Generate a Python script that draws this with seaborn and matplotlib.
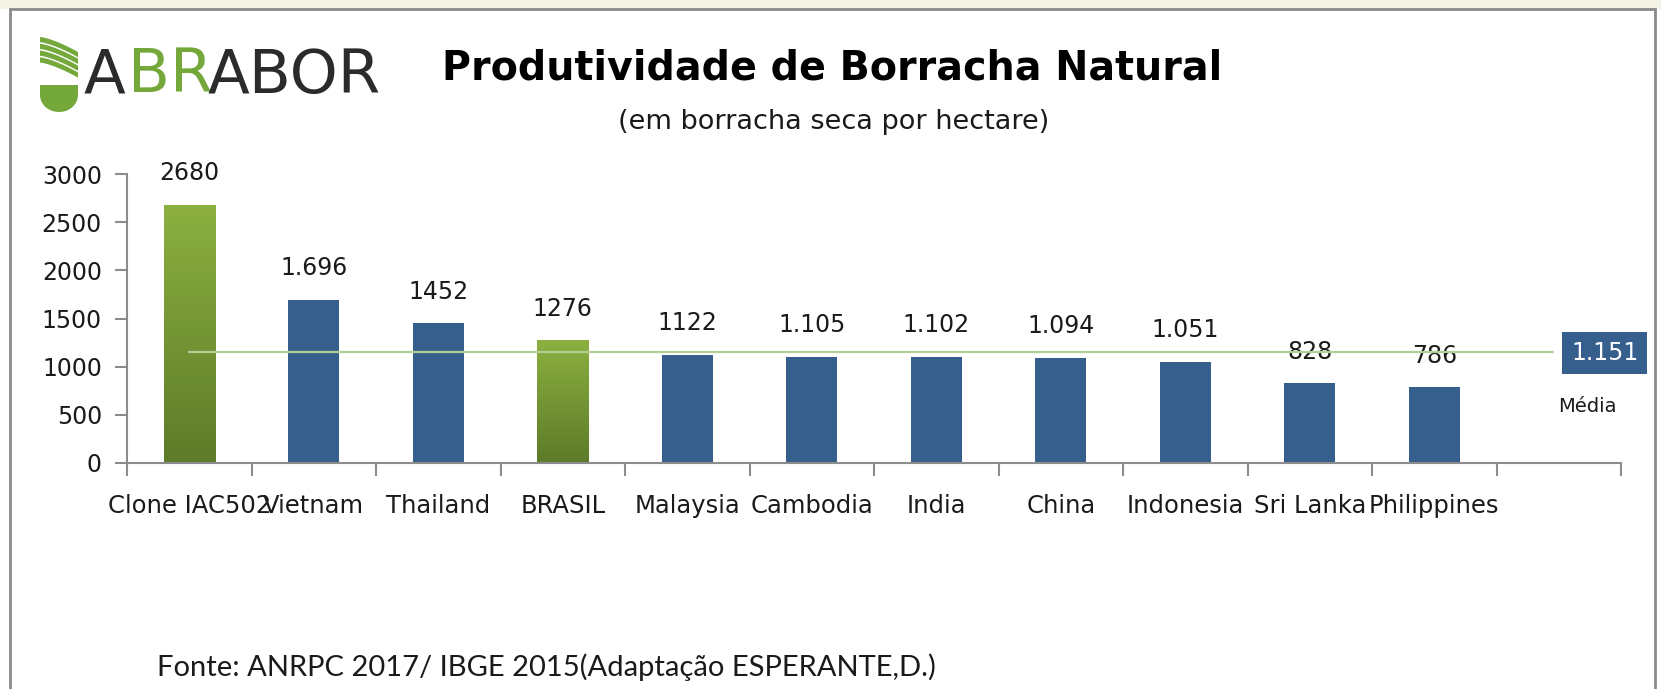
import numpy as np
import pandas as pd
import matplotlib
matplotlib.use("Agg")
import matplotlib.pyplot as plt
import matplotlib.patches as mpatches
import seaborn as sns

# data
countries = ["Clone IAC502", "Vietnam", "Thailand", "BRASIL", "Malaysia", "Cambodia",
             "India", "China", "Indonesia", "Sri Lanka", "Philippines"]
yields = [2680, 1696, 1452, 1276, 1122, 1105, 1102, 1094, 1051, 828, 786]
labels = ["2680", "1.696", "1452", "1276", "1122", "1.105", "1.102", "1.094", "1.051", "828", "786"]
highlight = ["Clone IAC502", "BRASIL"]
mean_value = 1151
mean_label = "1.151"
yticks = [0, 500, 1000, 1500, 2000, 2500, 3000]

BLUE = "#365f8e"
GREEN_TOP = "#8cb040"
GREEN_BOT = "#5d7b29"
AXIS = "#8c8c8c"

sns.set_style("white")
plt.rcParams['font.family'] = ['DejaVu Sans']

df = pd.DataFrame({"country": countries, "value": yields})
order = countries + [" "]   # empty slot on the right for the "Média" box

fig = plt.figure(figsize=(16.61, 6.89), dpi=100)
fig.patch.set_facecolor("white")
ax = fig.add_axes([127 / 1661, 1 - 463 / 689, (1621 - 127) / 1661, (463 - 174) / 689])

palette = {c: (GREEN_BOT if c in highlight else BLUE) for c in countries}
sns.barplot(data=df, x="country", y="value", order=order, hue="country",
            palette=palette, width=0.41, saturation=1, legend=False, ax=ax)

# green gradient on the highlighted bars
grad = np.linspace(0, 1, 256).reshape(-1, 1)
cmap = matplotlib.colors.LinearSegmentedColormap.from_list("g", [GREEN_BOT, GREEN_TOP])
for bar, c in zip(ax.patches, countries):
    bar.set_edgecolor("none")
    if c in highlight:
        x0, w, h = bar.get_x(), bar.get_width(), bar.get_height()
        im = ax.imshow(grad, extent=[x0, x0 + w, 0, h], origin="lower", cmap=cmap,
                       aspect="auto", zorder=bar.get_zorder() + 0.1)
        im.set_clip_path(bar)

ax.set_xlim(-0.5, len(order) - 0.5)
ax.set_ylim(0, 3000)
ax.set_yticks(yticks)
ax.set_xlabel("")
ax.set_ylabel("")

# data labels
for i, (v, lab) in enumerate(zip(yields, labels)):
    ax.annotate(lab, (i, v), xytext=(0, 14), textcoords="offset points",
                ha="center", va="bottom", fontsize=17, color="#1a1a1a")

# average line + box
ax.plot([0, 10.95], [mean_value, mean_value], color="#b3cf96", lw=1.6, zorder=5)
ax.text(11.37, mean_value - 14, mean_label, ha="center", va="center", fontsize=17,
        color="white", clip_on=False, zorder=6,
        bbox=dict(boxstyle="square,pad=0.38", fc=BLUE, ec="none"))
ax.text(11.23, 585, "Média", ha="center", va="center", fontsize=14, color="#1a1a1a",
        clip_on=False)

# axes styling
for s in ["top", "right"]:
    ax.spines[s].set_visible(False)
for s in ["left", "bottom"]:
    ax.spines[s].set_color(AXIS)
    ax.spines[s].set_linewidth(1.5)
ax.set_xticks(range(len(order)))
ax.set_xticklabels(order)
ax.set_xticks(np.arange(-0.5, len(order)), minor=True)
ax.tick_params(axis="x", which="major", bottom=True, length=0, pad=22, labelsize=17.5,
               labelcolor="#1a1a1a")
ax.tick_params(axis="x", which="minor", bottom=True, length=9, width=1.5, color=AXIS,
               direction="out")
ax.tick_params(axis="y", left=True, length=9, width=1.5, color=AXIS, direction="out", pad=9,
               labelsize=17, labelcolor="#1a1a1a")

# titles
fig.text(832 / 1661, 1 - 68 / 689, "Produtividade de Borracha Natural", ha="center",
         va="center", fontsize=28.5, fontweight="bold", color="black")
fig.text(834 / 1661, 1 - 122 / 689, "(em borracha seca por hectare)", ha="center",
         va="center", fontsize=19.5, color="#1a1a1a")
fig.text(157 / 1661, 1 - 667 / 689, "Fonte: ANRPC 2017/ IBGE 2015(Adaptação ESPERANTE,D.)",
         ha="left", va="center", fontsize=21, color="#1a1a1a", family="Lato")

# logo ABRABOR
la = fig.add_axes([0, 1 - 130 / 689, 420 / 1661, 130 / 689])
la.set_xlim(0, 420)
la.set_ylim(130, 0)
la.axis("off")
LG = "#74a83a"
xs = np.linspace(40, 78, 30)
curve = 15 * ((xs - 40) / 38) ** 1.4
for k in range(4):
    top = 37 + k * 6.8 + curve
    bot = top + 5.2
    pts = list(zip(xs, top)) + list(zip(xs[::-1], bot[::-1]))
    la.add_patch(mpatches.Polygon(pts, closed=True, fc=LG, ec="none"))
theta = np.linspace(0, np.pi, 50)
bowl = [(40, 85), (78, 85), (78, 95)] + [(59 + 19 * np.cos(t), 95 + 17 * np.sin(t)) for t in theta] + [(40, 95)]
la.add_patch(mpatches.Polygon(bowl, closed=True, fc=LG, ec="none"))
la.text(84, 76, "A", fontsize=44, color="#2b2b2b", va="center", ha="left")
la.text(128, 76, "BR", fontsize=44, color=LG, va="center", ha="left")
la.text(208, 76, "ABOR", fontsize=44, color="#2b2b2b", va="center", ha="left")

# outer frame
fig.patches.append(mpatches.Rectangle((0, 1 - 9 / 689), 1, 9 / 689, transform=fig.transFigure,
                                      fc="#f3f4e6", ec="none", zorder=0))
fig.patches.append(mpatches.Rectangle((10 / 1661, -0.05), (1655 - 10) / 1661, 1.05 - 9 / 689,
                                      transform=fig.transFigure, fill=False, ec="#8a8a8a",
                                      lw=2, zorder=10))

fig.savefig("out.png", dpi=100)
